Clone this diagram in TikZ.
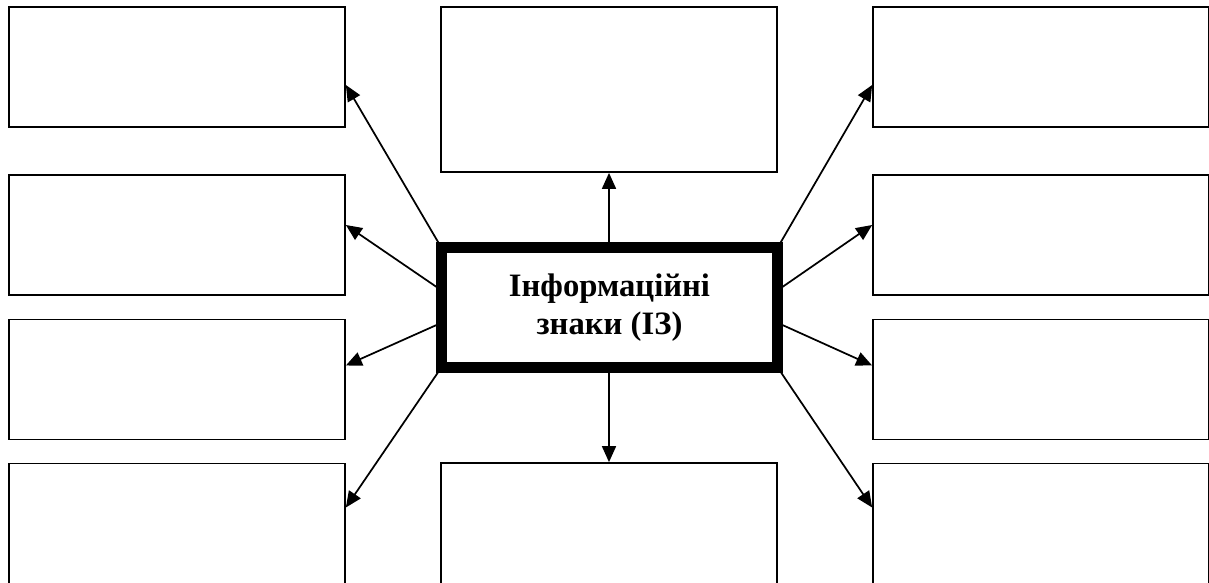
\documentclass[tikz,border=0pt]{standalone}
\usepackage{fontspec}
\setmainfont{Liberation Serif}
\usetikzlibrary{arrows.meta}
\begin{document}
\begin{tikzpicture}[x=0.75pt,y=-0.75pt,
  field/.style={draw,line width=1.3pt,minimum width=252pt,minimum height=90pt,inner sep=0pt},
  link/.style={line width=1.3pt,-{Triangle[length=12pt,width=10.5pt]}}]

\useasboundingbox (0,0) rectangle (1209,582);

\node[field] (l1) at (177,67) {};

\node[field] (l2) at (177,235) {};

\node[field] (l3) at (177,379.5) {};

\node[field] (l4) at (177,523.5) {};

\node[field] (r1) at (1041,67) {};

\node[field] (r2) at (1041,235) {};

\node[field] (r3) at (1041,379.5) {};

\node[field] (r4) at (1041,523.5) {};

\node[field,minimum height=123.75pt] (m1) at (609,89.5) {};

\node[field,minimum height=93pt] (m2) at (609,525) {};

\draw[link] (609,247) -- (m1.south);

\draw[link] (609,368) -- (m2.north);

\draw[link] (441,247) -- ([yshift=-13.5pt]l1.east);

\draw[link] (441,290) -- ([yshift=7.5pt]l2.east);

\draw[link] (441,323) -- ([yshift=10.5pt]l3.east);

\draw[link] (441,368) -- ([yshift=12pt]l4.east);

\draw[link] (778,247) -- ([yshift=-13.5pt]r1.west);

\draw[link] (778,290) -- ([yshift=7.5pt]r2.west);

\draw[link] (778,323) -- ([yshift=10.5pt]r3.west);

\draw[link] (778,368) -- ([yshift=12pt]r4.west);

\node[draw,fill=white,line width=8.25pt,minimum width=252pt,minimum height=90pt,inner sep=0pt,
  align=center,font=\fontsize{24.5}{28.75}\selectfont\bfseries] (sign) at (609.5,307.5) {Інформаційні\\знаки (ІЗ)};

\end{tikzpicture}
\end{document}
